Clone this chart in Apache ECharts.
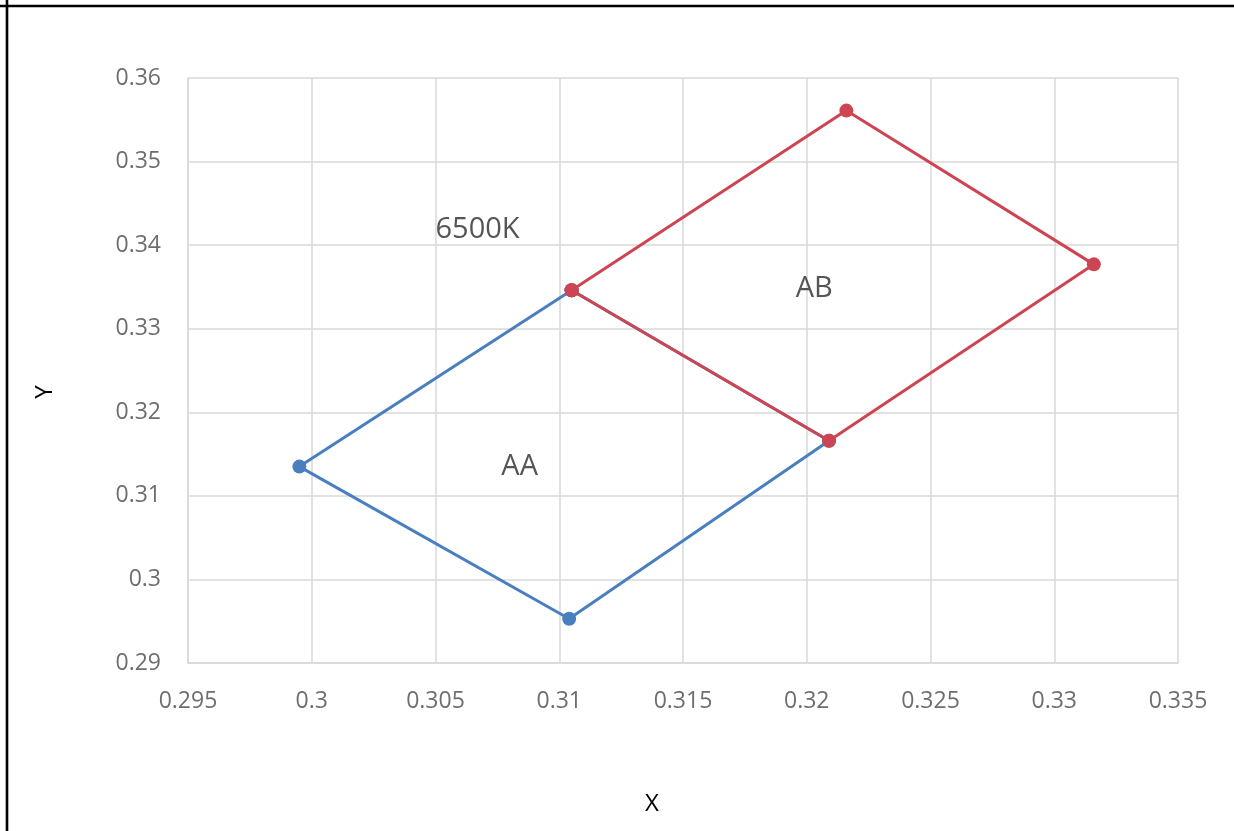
<!DOCTYPE html>
<html>
<head>
<meta charset="utf-8">
<script src="https://cdn.jsdelivr.net/npm/echarts@6/dist/echarts.min.js"></script>
<style>
html,body{margin:0;padding:0;background:#fff;}
#chart{width:1234px;height:831px;}
</style>
</head>
<body>
<div id="chart"></div>
<script>
// Data
var xTicks = [0.295, 0.3, 0.305, 0.31, 0.315, 0.32, 0.325, 0.33, 0.335];
var yTicks = [0.29, 0.3, 0.31, 0.32, 0.33, 0.34, 0.35, 0.36];
var aaX = [0.3105, 0.2995, 0.3104, 0.3209, 0.3105];
var aaY = [0.3346, 0.3135, 0.2953, 0.3166, 0.3346];
var abX = [0.3105, 0.3216, 0.3316, 0.3209, 0.3105];
var abY = [0.3346, 0.3561, 0.3377, 0.3166, 0.3346];
var noteText = ['6500K', 'AB', 'AA'];
var noteX = [0.3067, 0.3203, 0.3084];
var noteY = [0.3418, 0.3348, 0.3135];

function pairs(xs, ys){ return xs.map(function(x,i){ return [x, ys[i]]; }); }

var chart = echarts.init(document.getElementById('chart'), null, {renderer:'canvas'});
var gridColor = '#d9d9d9';
var labelColor = '#6e6e6e';
var font = '"Open Sans", "Noto Sans", sans-serif';

chart.setOption({
  animation: false,
  backgroundColor: '#ffffff',
  grid: {left: 188, right: 56, top: 78, bottom: 168, containLabel: false},
  xAxis: {
    type: 'value',
    min: xTicks[0], max: xTicks[xTicks.length-1], interval: 0.005,
    axisLine: {show: true, lineStyle: {color: gridColor, width: 1.5}},
    axisTick: {show: false},
    splitLine: {show: true, lineStyle: {color: gridColor, width: 1.5}},
    axisLabel: {color: labelColor, fontSize: 23, fontFamily: font, margin: 27,
      formatter: function(v){ return String(parseFloat(v.toFixed(3))); }}
  },
  yAxis: {
    type: 'value',
    min: yTicks[0], max: yTicks[yTicks.length-1], interval: 0.01,
    axisLine: {show: true, lineStyle: {color: gridColor, width: 1.5}},
    axisTick: {show: false},
    splitLine: {show: true, lineStyle: {color: gridColor, width: 1.5}},
    axisLabel: {color: labelColor, fontSize: 23, fontFamily: font, margin: 27,
      formatter: function(v){ return String(parseFloat(v.toFixed(3))); }}
  },
  series: [
    {
      name: 'AA', type: 'line', data: pairs(aaX, aaY),
      symbol: 'circle', symbolSize: 14, z: 2,
      lineStyle: {color: '#4a7fbf', width: 3},
      itemStyle: {color: '#4a7fbf'}
    },
    {
      name: 'AB', type: 'line', data: pairs(abX, abY),
      symbol: 'circle', symbolSize: 14, z: 3,
      lineStyle: {color: '#cd4552', width: 3},
      itemStyle: {color: '#cd4552'}
    },
    {
      name: 'notes', type: 'scatter', symbolSize: 0, z: 4,
      data: noteText.map(function(t,i){ return {value: [noteX[i], noteY[i]], name: t}; }),
      label: {show: true, position: 'inside', formatter: '{b}', color: '#2a2a2a',
        fontSize: 29, fontFamily: font},
      silent: true
    }
  ],
  graphic: [
    {type: 'line', shape: {x1: 7, y1: 0, x2: 7, y2: 831}, style: {stroke: '#000', lineWidth: 2.6}},
    {type: 'line', shape: {x1: 0, y1: 6, x2: 1234, y2: 6}, style: {stroke: '#000', lineWidth: 2.6}},
    {type: 'text', x: 652, y: 804, style: {text: 'X', fill: '#000', font: '24px "Open Sans", sans-serif', align: 'center', verticalAlign: 'middle'}},
    {type: 'text', x: 45, y: 392, rotation: Math.PI/2, style: {text: 'Y', fill: '#000', font: '24px "Open Sans", sans-serif', align: 'center', verticalAlign: 'middle'}}
  ]
});
</script>
</body>
</html>
